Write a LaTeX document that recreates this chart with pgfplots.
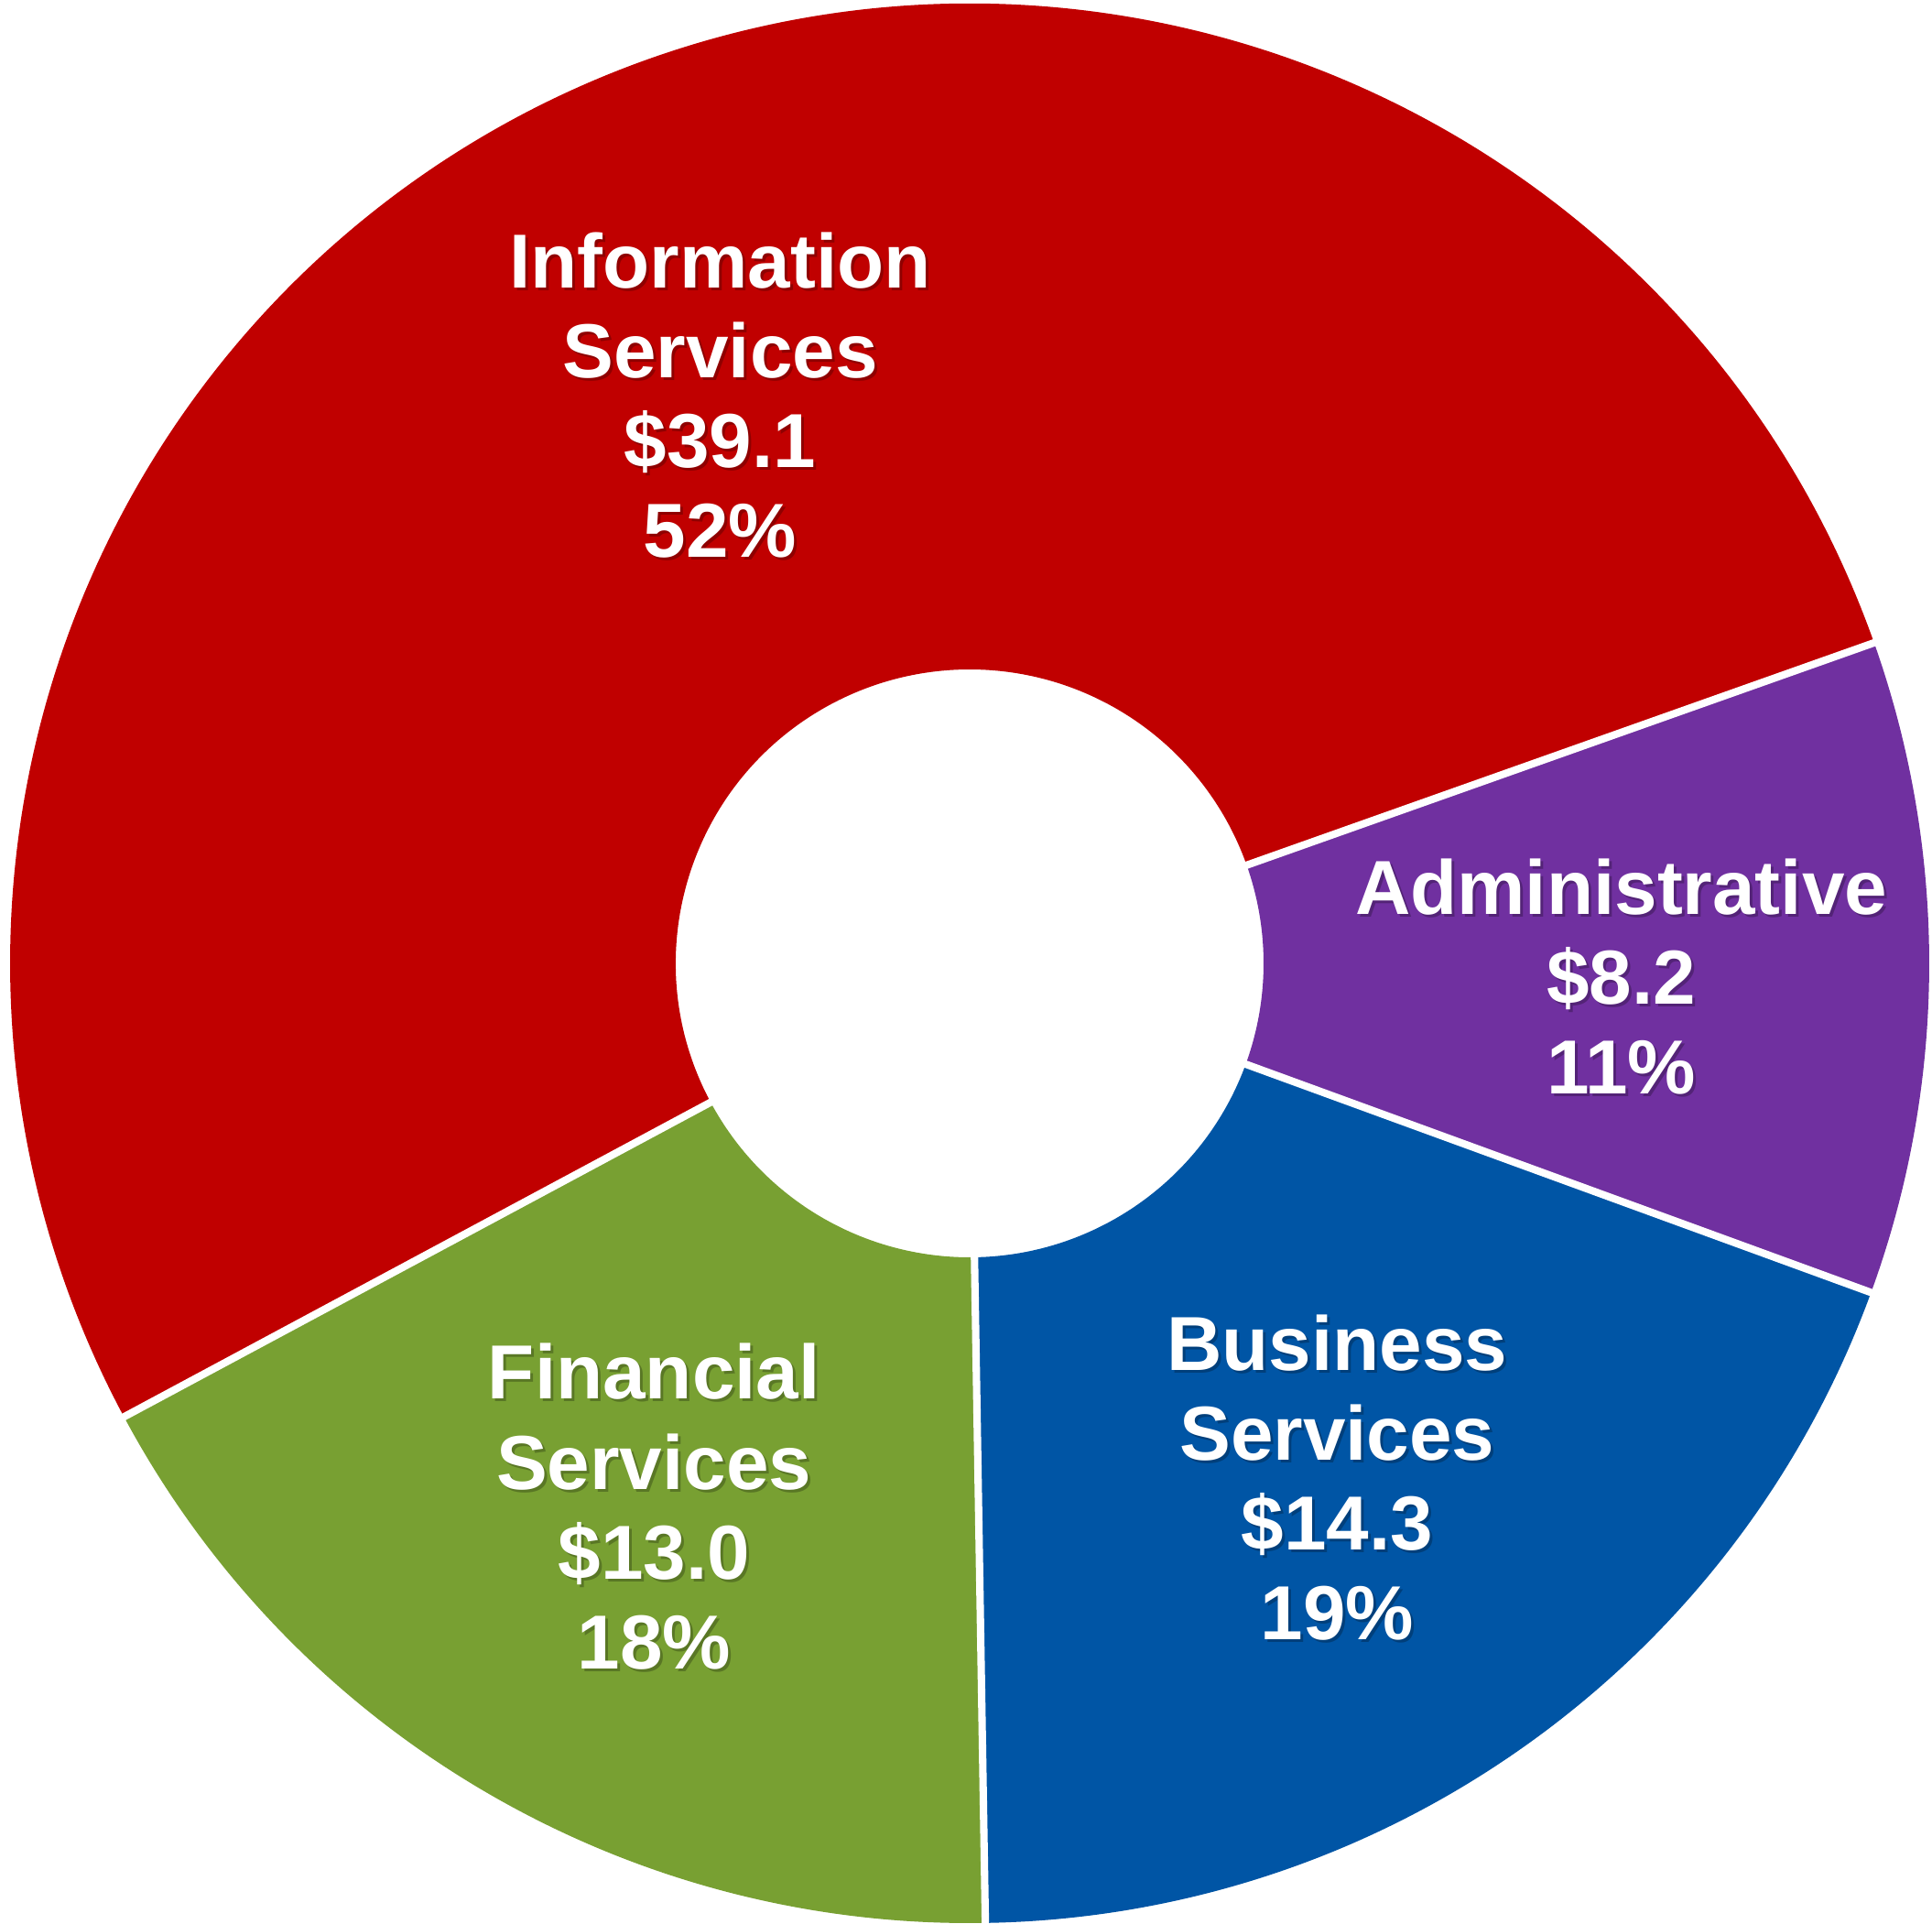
\documentclass[border=0pt]{standalone}
\usepackage{pgfplots}
\pgfplotsset{compat=1.18}
\usepackage{fontspec}
\setmainfont{Liberation Sans}

\definecolor{cInfo}{HTML}{C00000}
\definecolor{cAdmin}{HTML}{7030A0}
\definecolor{cBus}{HTML}{0055A5}
\definecolor{cFin}{HTML}{78A032}

% slice values ($M), clockwise from the first slice
\def\vInfo{39.1}
\def\vAdmin{8.2}
\def\vBus{14.3}
\def\vFin{13.0}
\pgfmathsetmacro\tot{\vInfo+\vAdmin+\vBus+\vFin}
\pgfmathsetmacro\aA{208.2}
\pgfmathsetmacro\aB{\aA-\vInfo/\tot*360}
\pgfmathsetmacro\aC{\aB-\vAdmin/\tot*360}
\pgfmathsetmacro\aD{\aC-\vBus/\tot*360}
\pgfmathsetmacro\aE{\aD-\vFin/\tot*360}

\def\rin{3.21cm}
\def\rout{10.48cm}

\newcommand\sector[3]{%
  \fill[#3] ([shift={(#1:\rin)}]O) arc[start angle=#1, end angle=#2, radius=\rin]
    -- ([shift={(#2:\rout)}]O) arc[start angle=#2, end angle=#1, radius=\rout] -- cycle;}
\newcommand\sep[1]{%
  \draw[white, line width=2.3pt] ([shift={(#1:3.0cm)}]O) -- ([shift={(#1:10.7cm)}]O);}
\newcommand\lbl[3]{%
  \node[align=center, text=black, opacity=0.25, font=\fontsize{23.8}{27.9}\selectfont\bfseries,
        xshift=0.3mm, yshift=-0.3mm] at (axis cs:#1,#2) {#3};
  \node[align=center, text=white, font=\fontsize{23.8}{27.9}\selectfont\bfseries] at (axis cs:#1,#2) {#3};}

\begin{document}
\begin{tikzpicture}
\begin{axis}[
    hide axis,
    scale only axis,
    width=21.1cm, height=21.0cm,
    xmin=-1.0105, xmax=1.0029,
    ymin=-1.0, ymax=1.0038,
    clip=false,
]
\coordinate (O) at (axis cs:0,0);
\sector{\aA}{\aB}{cInfo}
\sector{\aB}{\aC}{cAdmin}
\sector{\aC}{\aD}{cBus}
\sector{\aD}{\aE}{cFin}
\sep{\aA}\sep{\aB}\sep{\aC}\sep{\aD}

\lbl{-0.260}{0.592}{Information\\Services\\\$39.1\\52\%}
\lbl{0.679}{-0.014}{Administrative\\\$8.2\\11\%}
\lbl{0.383}{-0.536}{Business\\Services\\\$14.3\\19\%}
\lbl{-0.329}{-0.566}{Financial\\Services\\\$13.0\\18\%}
\end{axis}
\pgfresetboundingbox
\useasboundingbox (current axis.south west) rectangle (current axis.north east);
\end{tikzpicture}
\end{document}
